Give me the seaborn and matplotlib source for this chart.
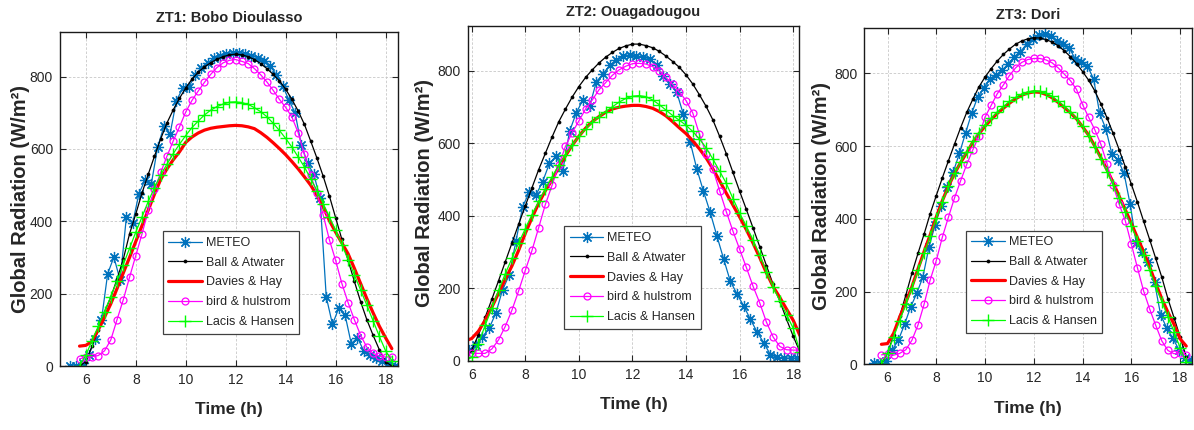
import matplotlib
matplotlib.use("Agg")
import matplotlib.pyplot as plt
import seaborn as sns

# --- datos (W/m2 contra hora) ---
t_model = [5.75, 6.0, 6.25, 6.5, 6.75, 7.0, 7.25, 7.5, 7.75, 8.0, 8.25, 8.5, 8.75,
           9.0, 9.25, 9.5, 9.75, 10.0, 10.25, 10.5, 10.75, 11.0, 11.25, 11.5, 11.75,
           12.0, 12.25, 12.5, 12.75, 13.0, 13.25, 13.5, 13.75, 14.0, 14.25, 14.5, 14.75,
           15.0, 15.25, 15.5, 15.75, 16.0, 16.25, 16.5, 16.75, 17.0, 17.25, 17.5, 17.75,
           18.0, 18.25]

# ZT1: Bobo Dioulasso
t_obs_1 = [5.375, 5.625, 5.875, 6.125, 6.375, 6.625, 6.875, 7.125, 7.375, 7.625, 7.875,
           8.125, 8.375, 8.625, 8.875, 9.125, 9.375, 9.625, 9.875, 10.125, 10.375, 10.625,
           10.875, 11.125, 11.375, 11.625, 11.875, 12.125, 12.375, 12.625, 12.875, 13.125,
           13.375, 13.625, 13.875, 14.125, 14.375, 14.625, 14.875, 15.125, 15.375, 15.625,
           15.875, 16.125, 16.375, 16.625, 16.875, 17.125, 17.375, 17.625, 17.875, 18.125,
           18.375]
meteo_1 = [0, 0, 8, 30, 76, 126, 255, 301, 237, 412, 394, 476, 515, 504, 605, 662, 642,
           733, 767, 770, 805, 825, 838, 850, 856, 862, 866, 866, 862, 858, 852, 842, 830,
           805, 775, 736, 700, 612, 560, 530, 465, 191, 115, 160, 142, 62, 78, 42, 30, 22,
           15, 8, 0]
ball_1 = [0, 12, 55, 100, 150, 190, 240, 295, 365, 420, 478, 530, 580, 628, 672, 708, 740,
          768, 793, 812, 827, 838, 848, 855, 860, 862, 860, 855, 847, 836, 822, 806, 788,
          765, 737, 705, 668, 622, 575, 525, 470, 410, 350, 292, 234, 178, 128, 85, 45, 12, 0]
davies_1 = [55, 57, 68, 100, 135, 172, 214, 257, 300, 344, 388, 431, 475, 516, 545, 570,
            592, 618, 633, 644, 652, 657, 660, 662, 664, 665, 664, 661, 656, 645, 632, 617,
            601, 584, 565, 545, 523, 500, 472, 440, 402, 370, 340, 310, 270, 228, 186, 147,
            110, 78, 48]
bird_1 = [20, 24, 26, 29, 42, 72, 128, 183, 245, 305, 365, 430, 488, 535, 580, 622, 661,
          702, 734, 760, 784, 806, 825, 838, 845, 847, 842, 836, 822, 805, 785, 762, 737,
          715, 688, 645, 585, 527, 478, 418, 349, 292, 228, 175, 128, 85, 52, 35, 27, 25, 25]
lacis_1 = [0, 30, 70, 110, 150, 192, 235, 280, 325, 370, 412, 455, 493, 528, 558, 587, 613,
           637, 659, 677, 694, 707, 717, 724, 729, 730, 728, 723, 714, 703, 689, 671, 651,
           629, 605, 578, 550, 518, 485, 449, 413, 375, 335, 294, 252, 210, 168, 125, 82,
           42, 15]

# ZT2: Ouagadougou
t_obs_2 = [5.9, 6.15, 6.4, 6.65, 6.9, 7.15, 7.4, 7.65, 7.9, 8.15, 8.4, 8.65, 8.9, 9.15,
           9.4, 9.65, 9.9, 10.15, 10.4, 10.65, 10.9, 11.15, 11.4, 11.65, 11.9, 12.15, 12.4,
           12.65, 12.9, 13.15, 13.4, 13.65, 13.9, 14.15, 14.4, 14.65, 14.9, 15.15, 15.4,
           15.65, 15.9, 16.15, 16.4, 16.65, 16.9, 17.15, 17.4, 17.65, 17.9, 18.15]
meteo_2 = [30, 45, 67, 90, 132, 196, 237, 330, 426, 465, 458, 495, 545, 565, 525, 633, 684,
           720, 702, 770, 792, 815, 830, 840, 845, 842, 838, 833, 815, 785, 765, 742, 680,
           605, 530, 468, 410, 345, 282, 220, 185, 152, 115, 80, 50, 17, 10, 8, 8, 8]
ball_2 = [0, 30, 72, 120, 170, 221, 273, 325, 377, 428, 478, 528, 573, 618, 660, 695, 728,
          757, 782, 803, 822, 838, 851, 862, 869, 874, 874, 870, 864, 854, 841, 826, 810,
          789, 764, 734, 702, 665, 620, 572, 520, 468, 418, 367, 315, 263, 211, 165, 115,
          68, 25]
davies_2 = [55, 62, 82, 112, 148, 187, 225, 262, 305, 352, 395, 435, 470, 500, 535, 566,
            595, 620, 642, 660, 674, 686, 695, 700, 703, 705, 705, 702, 697, 688, 676, 660,
            643, 627, 607, 585, 560, 530, 497, 463, 430, 397, 362, 325, 285, 243, 205, 175,
            143, 112, 70]
bird_2 = [21, 21, 21, 21, 33, 58, 95, 140, 193, 250, 305, 368, 432, 485, 540, 592, 630,
          662, 695, 720, 748, 768, 788, 803, 813, 820, 821, 819, 812, 800, 782, 763, 742,
          718, 684, 625, 572, 530, 470, 412, 358, 308, 258, 206, 160, 107, 66, 40, 31, 30, 30]
lacis_2 = [0, 10, 48, 98, 145, 195, 240, 283, 325, 365, 404, 440, 475, 508, 540, 568, 595,
           620, 640, 658, 674, 688, 701, 714, 724, 730, 732, 729, 720, 707, 692, 677, 664,
           650, 633, 612, 588, 557, 524, 490, 448, 408, 372, 334, 292, 246, 204, 165, 128,
           90, 25]

# ZT3: Dori
t_obs_3 = [5.45, 5.7, 5.95, 6.2, 6.45, 6.7, 6.95, 7.2, 7.45, 7.7, 7.95, 8.2, 8.45, 8.7,
           8.95, 9.2, 9.45, 9.7, 9.95, 10.2, 10.45, 10.7, 10.95, 11.2, 11.45, 11.7, 11.95,
           12.2, 12.45, 12.7, 12.95, 13.2, 13.45, 13.7, 13.95, 14.2, 14.45, 14.7, 14.95,
           15.2, 15.45, 15.7, 15.95, 16.2, 16.45, 16.7, 16.95, 17.2, 17.45, 17.7, 17.95,
           18.2, 18.45]
meteo_3 = [4, 4, 10, 40, 67, 110, 158, 195, 240, 322, 383, 435, 488, 530, 580, 636, 690,
           735, 760, 785, 795, 808, 827, 845, 860, 880, 895, 905, 908, 903, 890, 880, 870,
           840, 830, 820, 785, 690, 648, 578, 562, 525, 440, 333, 310, 280, 225, 136, 100,
           72, 40, 18, 8]
ball_3 = [0, 30, 80, 132, 190, 250, 305, 358, 414, 464, 513, 560, 606, 651, 693, 729, 763,
          790, 813, 834, 852, 867, 880, 889, 895, 898, 897, 893, 886, 876, 862, 846, 827,
          805, 781, 752, 716, 678, 635, 590, 543, 495, 446, 394, 343, 291, 239, 180, 128,
          75, 20]
davies_3 = [55, 57, 85, 130, 170, 213, 262, 310, 356, 405, 450, 490, 525, 555, 582, 611,
            634, 655, 673, 690, 704, 718, 730, 740, 746, 749, 748, 742, 733, 720, 706, 692,
            675, 653, 630, 600, 568, 535, 500, 462, 425, 387, 348, 310, 268, 222, 180, 143,
            110, 70, 50]
bird_3 = [26, 28, 25, 30, 40, 66, 108, 165, 232, 285, 350, 405, 458, 505, 550, 590, 628,
          680, 712, 744, 768, 794, 815, 830, 838, 841, 841, 837, 829, 815, 798, 780, 756,
          714, 679, 645, 605, 552, 492, 440, 395, 330, 265, 202, 152, 107, 64, 38, 29, 32, 25]
lacis_3 = [0, 30, 75, 120, 165, 210, 258, 305, 352, 402, 447, 490, 525, 556, 585, 613, 637,
           658, 677, 694, 709, 723, 734, 743, 749, 752, 751, 746, 737, 724, 710, 694, 676,
           654, 628, 598, 565, 530, 494, 456, 418, 380, 340, 300, 258, 215, 172, 130, 90,
           45, 5]

titles = ["ZT1: Bobo Dioulasso", "ZT2: Ouagadougou", "ZT3: Dori"]
labels = ["METEO", "Ball & Atwater", "Davies & Hay", "bird & hulstrom", "Lacis & Hansen"]
x_ticks = [6, 8, 10, 12, 14, 16, 18]
y_ticks = [0, 200, 400, 600, 800]

sns.set_style("ticks")
plt.rcParams["font.family"] = ["Liberation Sans", "DejaVu Sans"]

BLUE = "#0072BD"
MAG = "#FF00FF"
GREEN = "#00FF00"

fig = plt.figure(figsize=(11.94, 4.30), dpi=100)

# posiciones de los ejes [izq, abajo, ancho, alto], limites en x, leyenda y etiqueta y
panels = [
    dict(pos=[0.0503, 0.1488, 0.2831, 0.7775], xlim=(4.97, 18.5), leg=(0.506, 0.25),
         ylab_x=-0.09,
         t_obs=t_obs_1, meteo=meteo_1, ball=ball_1, davies=davies_1, bird=bird_1, lacis=lacis_1),
    dict(pos=[0.3917, 0.1605, 0.2776, 0.7791], xlim=(5.85, 18.22), leg=(0.497, 0.249),
         ylab_x=-0.102,
         t_obs=t_obs_2, meteo=meteo_2, ball=ball_2, davies=davies_2, bird=bird_2, lacis=lacis_2),
    dict(pos=[0.7239, 0.1528, 0.2743, 0.7814], xlim=(5.05, 18.48), leg=(0.518, 0.246),
         ylab_x=-0.102,
         t_obs=t_obs_3, meteo=meteo_3, ball=ball_3, davies=davies_3, bird=bird_3, lacis=lacis_3),
]

for i, p in enumerate(panels):
    ax = fig.add_axes(p["pos"])
    sns.lineplot(x=p["t_obs"], y=p["meteo"], ax=ax, color=BLUE, linewidth=0.9,
                 marker=(8, 2, 0), markersize=8, markeredgecolor=BLUE,
                 markeredgewidth=0.9, label=labels[0])
    sns.lineplot(x=t_model, y=p["ball"], ax=ax, color="black", linewidth=0.9,
                 marker="o", markersize=2.2, markeredgecolor="black",
                 markeredgewidth=0.5, label=labels[1])
    sns.lineplot(x=t_model, y=p["davies"], ax=ax, color="red", linewidth=2.3,
                 label=labels[2])
    sns.lineplot(x=t_model, y=p["bird"], ax=ax, color=MAG, linewidth=0.9,
                 marker="o", markersize=5, markerfacecolor="none",
                 markeredgecolor=MAG, markeredgewidth=0.9, label=labels[3])
    sns.lineplot(x=t_model, y=p["lacis"], ax=ax, color=GREEN, linewidth=0.9,
                 marker="+", markersize=8, markeredgecolor=GREEN,
                 markeredgewidth=1.0, label=labels[4])

    ax.set_xlim(*p["xlim"])
    ax.set_ylim(0, 924)
    ax.set_xticks(x_ticks)
    ax.set_yticks(y_ticks)
    ax.grid(True, linestyle=(0, (3, 2)), color="0.78", linewidth=0.6)
    ax.tick_params(direction="in", top=True, right=True, length=4, width=0.8,
                   labelsize=10, colors="0.15", pad=5)
    for s in ax.spines.values():
        s.set_color("0.1")
        s.set_linewidth(1.0)

    ax.set_title(titles[i], fontsize=10.5, fontweight="bold", pad=7)
    ax.set_xlabel("Time (h)", fontsize=12.5, fontweight="bold", labelpad=11, color="0.15")
    ax.set_ylabel("Global Radiation (W/m²)", fontsize=14.5, fontweight="bold", color="0.15")
    ax.yaxis.set_label_coords(p["ylab_x"], 0.5)

    leg = ax.legend(loc="center", bbox_to_anchor=p["leg"], fontsize=9,
                    frameon=True, fancybox=False, framealpha=1, edgecolor="0.25",
                    handlelength=2.7, labelspacing=0.62, borderpad=0.45,
                    handletextpad=0.3)
    leg.get_frame().set_linewidth(0.9)

fig.savefig("out.png", dpi=100)
